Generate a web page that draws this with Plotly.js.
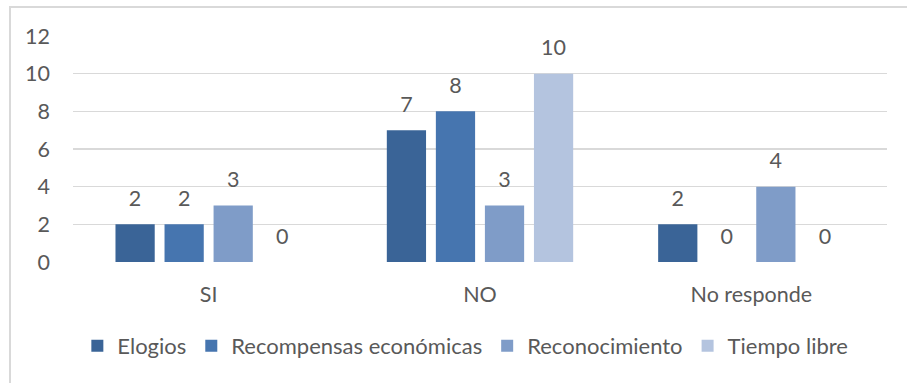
<!DOCTYPE html>
<html>
<head>
<meta charset="utf-8">
<script src="https://cdn.plot.ly/plotly-3.0.1.min.js"></script>
<style>
  html, body { margin: 0; padding: 0; background: #fff; overflow: hidden; }
  #wrap { position: relative; width: 907px; height: 383px; }
  #chart { width: 907px; height: 383px; }
  #frame { position: absolute; left: 9px; top: 6px; width: 1000px; height: 1000px;
           border: 2px solid #D9D9D9; box-sizing: border-box; pointer-events: none; }
</style>
</head>
<body>
<div id="wrap">
  <div id="chart"></div>
  <div id="frame"></div>
</div>
<script>
// Categories and series
const categories = ["SI", "NO", "No responde"];
const seriesNames = ["Elogios", "Recompensas económicas", "Reconocimiento", "Tiempo libre"];
const elogios = [2, 7, 2];
const recompensas = [2, 8, 0];
const reconocimiento = [3, 3, 4];
const tiempoLibre = [0, 10, 0];
const yTicks = [0, 2, 4, 6, 8, 10, 12];

const seriesValues = [elogios, recompensas, reconocimiento, tiempoLibre];
const colors = ["#3A6497", "#4675AF", "#7F9CC8", "#B4C4DF"];
const textColor = "#595959";
const fontFamily = "Lato, 'Open Sans', sans-serif";
const fontSize = 21.5;

const traces = [];
seriesValues.forEach((vals, i) => {
  traces.push({
    type: "bar",
    name: seriesNames[i],
    x: categories,
    y: vals,
    marker: { color: colors[i] },
    hoverinfo: "skip"
  });
});
// Value labels floated above each bar
seriesValues.forEach((vals, i) => {
  traces.push({
    type: "scatter",
    mode: "markers+text",
    x: categories,
    y: vals,
    text: vals.map(String),
    textposition: "top center",
    textfont: { family: fontFamily, size: fontSize, color: textColor },
    marker: { size: 19, opacity: 0, color: colors[i] },
    showlegend: false,
    hoverinfo: "skip",
    cliponaxis: false
  });
});

const layout = {
  width: 907,
  height: 383,
  margin: { l: 73, r: 20, t: 36, b: 121 },
  paper_bgcolor: "#ffffff",
  plot_bgcolor: "#ffffff",
  font: { family: fontFamily, size: fontSize, color: textColor },
  barmode: "group",
  scattermode: "group",
  bargap: 0.277,
  scattergap: 0.277,
  bargroupgap: 0.2,
  xaxis: {
    type: "category",
    showgrid: false,
    zeroline: false,
    showline: false,
    ticks: "",
    ticklabelstandoff: 17,
    tickfont: { family: fontFamily, size: fontSize, color: textColor }
  },
  yaxis: {
    range: [0, 12],
    tickvals: yTicks,
    showgrid: true,
    gridcolor: "#D9D9D9",
    gridwidth: 1.3,
    zeroline: false,
    showline: false,
    ticks: "",
    ticklabelstandoff: 22,
    tickfont: { family: fontFamily, size: fontSize, color: textColor }
  },
  showlegend: true,
  legend: {
    orientation: "h",
    x: 0.482,
    xanchor: "center",
    y: -0.372,
    yanchor: "middle",
    font: { family: fontFamily, size: 22, color: textColor },
    itemclick: false,
    itemdoubleclick: false,
    traceorder: "normal"
  }
};

Plotly.newPlot("chart", traces, layout, { displayModeBar: false, staticPlot: true });
</script>
</body>
</html>
